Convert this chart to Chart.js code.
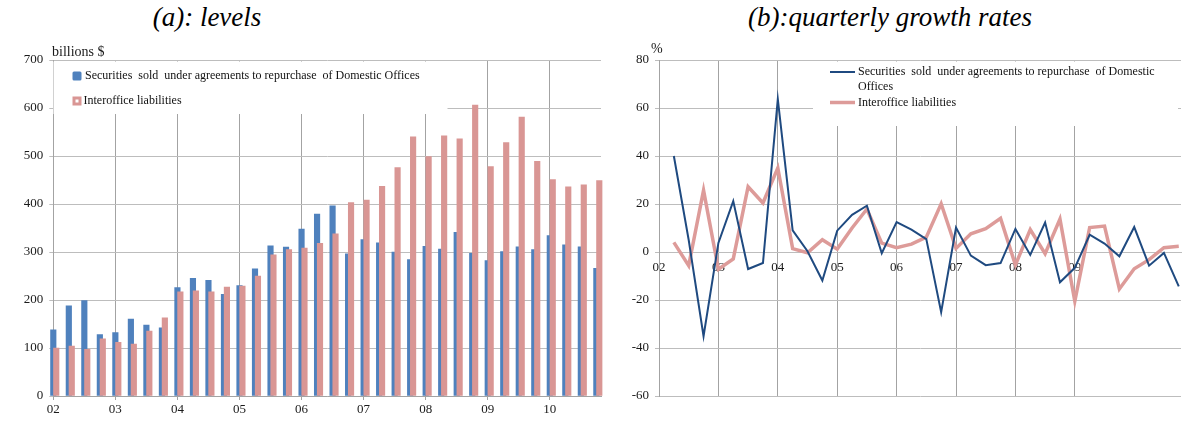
<!DOCTYPE html>
<html>
<head>
<meta charset="utf-8">
<script src="https://cdn.jsdelivr.net/npm/chart.js@4.4.1/dist/chart.umd.min.js"></script>
<style>
  html, body { margin: 0; padding: 0; background: #fff; }
  body { width: 1184px; height: 421px; position: relative; overflow: hidden;
         font-family: "Liberation Serif", "Times New Roman", serif; color: #000; }
  .title { position: absolute; top: 1px; font-style: italic; font-size: 27px; line-height: 32px;
           white-space: nowrap; transform: translateX(-50%); }
  .unit { position: absolute; font-size: 14px; line-height: 16px; white-space: nowrap; color: #1a1a1a; }
  #wrapA { position: absolute; left: 0; top: 0; width: 610px; height: 421px; }
  #wrapB { position: absolute; left: 600px; top: 0; width: 584px; height: 421px; }
</style>
</head>
<body>
<div class="title" style="left:207px">(a): levels</div>
<div class="title" style="left:890px">(b):quarterly growth rates</div>
<div id="wrapA"><canvas id="levels" width="610" height="421"></canvas></div>
<div id="wrapB"><canvas id="growth" width="584" height="421"></canvas></div>
<div class="unit" style="left:52px;top:44px">billions $</div>
<div class="unit" style="left:651px;top:41px">%</div>
<script>
// Quarterly categories, 2002Q1 .. 2010Q4
const quarters = [
  '2002Q1','2002Q2','2002Q3','2002Q4', '2003Q1','2003Q2','2003Q3','2003Q4',
  '2004Q1','2004Q2','2004Q3','2004Q4', '2005Q1','2005Q2','2005Q3','2005Q4',
  '2006Q1','2006Q2','2006Q3','2006Q4', '2007Q1','2007Q2','2007Q3','2007Q4',
  '2008Q1','2008Q2','2008Q3','2008Q4', '2009Q1','2009Q2','2009Q3','2009Q4',
  '2010Q1','2010Q2','2010Q3','2010Q4'
];
// Year labels shown at the first quarter of each year
const yearLabels = ['02','03','04','05','06','07','08','09','10'];

// Levels, billions of dollars
const repoLevels = [
  138, 188, 199, 128,   132, 160, 148, 142,   226, 245, 241, 212,
  230, 265, 313, 310,   348, 379, 396, 296,   326, 319, 300, 284,
  312, 306, 341, 297,   282, 301, 311, 305,   334, 315, 311, 266
];
const interofficeLevels = [
  100, 104,  97, 119,   112, 108, 135, 163,   217, 219, 217, 227,
  229, 250, 294, 305,   308, 318, 338, 403,   408, 437, 476, 540,
  499, 542, 536, 606,   478, 528, 581, 489,   451, 436, 440, 449
];

// Quarterly growth rates, percent (2002Q2 .. 2010Q4)
const repoGrowth = [
        40.0,   5.0, -35.1,    3.8,  21.2,  -7.1,  -4.6,
  63.7,  9.0,   0.3, -11.9,    8.9,  15.5,  19.3,  -0.5,
  12.5,  9.3,   5.4, -25.1,   10.2,  -1.5,  -5.5,  -4.6,
   9.6, -1.2,  12.3, -12.6,   -6.6,   7.2,   3.5,  -1.8,
  10.4, -5.7,  -0.4, -14.3
];
const interofficeGrowth = [
         4.0,  -5.7,  25.7,   -7.2,  -2.9,  27.2,  20.4,
  35.0,  1.4,  -0.3,   5.1,    1.2,  10.0,  17.9,   3.7,
   1.8,  3.3,   6.2,  20.1,    1.5,   7.6,   9.7,  14.0,
  -5.4,  9.3,  -0.7,  13.7,  -20.5,  10.2,  10.8, -15.4,
  -7.0, -3.2,   1.8,   2.4
];

const repoLabel = 'Securities  sold  under agreements to repurchase  of Domestic Offices';
const interofficeLabel = 'Interoffice liabilities';

const BLUE = '#4f81bd';
const PINK = '#d99694';
const NAVY = '#1f4a80';
const PINK_LINE = '#dd9b99';
const GRID_V = '#a3a3a3';
const GRID_H = '#bdbdbd';
const AXIS = '#a3a3a3';
const TICK_FONT = { family: 'Liberation Serif', size: 13 };
const TICK_COLOR = '#1a1a1a';

// Levels are drawn at their quarter index; growth rates start at the second quarter
const levelPoints = (arr) => arr.map((v, i) => ({ x: quarters.indexOf(quarters[i]), y: v }));
const growthPoints = (arr) => arr.map((v, i) => ({ x: quarters.indexOf(quarters[i + 1]), y: v }));

// Keep only the year ticks (first quarter of each year)
const yearTicksOnly = (scale) => {
  scale.ticks = scale.ticks.filter(t => Number.isInteger(t.value) && t.value % 4 === 0 && t.value / 4 < yearLabels.length);
};
const yearTickLabel = (v) => yearLabels[v / 4];

// Legend drawn inside the plot on a white panel, above the grid and below the data
const boxLegend = {
  id: 'boxLegend',
  beforeDatasetsDraw(chart, args, opts) {
    if (!opts || !opts.items) return;
    const ctx = chart.ctx;
    ctx.save();
    ctx.fillStyle = '#fff';
    ctx.fillRect(opts.box.x, opts.box.y, opts.box.w, opts.box.h);
    ctx.font = '12px "Liberation Serif"';
    ctx.textBaseline = 'middle';
    opts.items.forEach(item => {
      const ds = chart.data.datasets[item.datasetIndex];
      if (item.marker === 'solid') {
        ctx.fillStyle = ds.backgroundColor;
        ctx.beginPath();
        ctx.roundRect(item.mx, item.y - 4.5, 9, 9, 1.5);
        ctx.fill();
      } else if (item.marker === 'hollow') {
        ctx.fillStyle = ds.backgroundColor;
        ctx.fillRect(item.mx, item.y - 4.5, 9, 9);
        ctx.fillStyle = '#fff';
        ctx.fillRect(item.mx + 3, item.y - 1.5, 3, 3);
      } else {
        ctx.strokeStyle = ds.borderColor;
        ctx.lineWidth = ds.borderWidth;
        ctx.beginPath();
        ctx.moveTo(item.mx, item.y);
        ctx.lineTo(item.mx + 25, item.y);
        ctx.stroke();
      }
      ctx.fillStyle = '#111';
      const lines = item.lines || [ds.label];
      lines.forEach((line, j) => ctx.fillText(line, item.tx, item.y + j * 15));
    });
    ctx.restore();
  }
};

new Chart(document.getElementById('levels'), {
  type: 'bar',
  data: {
    datasets: [
      { label: repoLabel, data: levelPoints(repoLevels), backgroundColor: BLUE,
        xAxisID: 'x', order: 1, grouped: false, barThickness: 5.5, clip: 8 },
      { label: interofficeLabel, data: levelPoints(interofficeLevels), backgroundColor: PINK,
        xAxisID: 'xPink', order: 0, grouped: false, barThickness: 5.5, clip: 8 }
    ]
  },
  options: {
    responsive: false,
    animation: false,
    layout: { padding: { top: 60, right: 9, left: 0, bottom: 0 } },
    plugins: {
      legend: { display: false },
      tooltip: { enabled: false },
      boxLegend: {
        box: { x: 53.5, y: 61.5, w: 394, h: 52.5 },
        items: [
          { datasetIndex: 0, marker: 'solid', mx: 72.5, tx: 85, y: 76 },
          { datasetIndex: 1, marker: 'hollow', mx: 72.5, tx: 83.5, y: 101 }
        ]
      }
    },
    scales: {
      x: {
        type: 'linear', min: 0, max: 35.3, offset: false,
        afterBuildTicks: yearTicksOnly,
        afterFit: (s) => { s.height = 25; },
        ticks: { stepSize: 4, autoSkip: false, maxRotation: 0, callback: yearTickLabel,
                 font: TICK_FONT, color: TICK_COLOR, padding: 2 },
        grid: { color: GRID_V, tickLength: 4, offset: false },
        border: { color: AXIS }
      },
      // same quarter scale, shifted slightly right so the second series overlaps the first
      xPink: { type: 'linear', display: false, min: -0.19, max: 35.11, offset: false, grid: { offset: false } },
      y: {
        min: 0, max: 700,
        afterFit: (s) => { s.width = 53.3; },
        ticks: { stepSize: 100, font: TICK_FONT, color: TICK_COLOR, padding: 6 },
        grid: { color: GRID_H, tickLength: 4 },
        border: { color: AXIS }
      }
    }
  },
  plugins: [boxLegend]
});

new Chart(document.getElementById('growth'), {
  type: 'line',
  data: {
    datasets: [
      { label: repoLabel, data: growthPoints(repoGrowth), borderColor: NAVY, borderWidth: 2,
        pointRadius: 0, tension: 0, fill: false },
      { label: interofficeLabel, data: growthPoints(interofficeGrowth), borderColor: PINK_LINE, borderWidth: 3.5,
        pointRadius: 0, tension: 0, fill: false }
    ]
  },
  options: {
    responsive: false,
    animation: false,
    layout: { padding: { top: 60, right: 3, left: 0, bottom: 25 } },
    plugins: {
      legend: { display: false },
      tooltip: { enabled: false },
      boxLegend: {
        box: { x: 213, y: 61.5, w: 365, h: 64.5 },
        items: [
          { datasetIndex: 0, marker: 'line', mx: 230, tx: 258, y: 72,
            lines: ['Securities  sold  under agreements to repurchase  of Domestic', 'Offices'] },
          { datasetIndex: 1, marker: 'line', mx: 230, tx: 258, y: 102.5 }
        ]
      }
    },
    scales: {
      x: {
        type: 'linear', min: 0, max: 35.15,
        position: { y: 0 },
        afterBuildTicks: yearTicksOnly,
        ticks: { stepSize: 4, autoSkip: false, maxRotation: 0, callback: yearTickLabel,
                 font: TICK_FONT, color: TICK_COLOR, padding: 4 },
        grid: { color: GRID_V, tickLength: 4 },
        border: { color: GRID_H }
      },
      y: {
        min: -60, max: 80,
        afterFit: (s) => { s.width = 59; },
        ticks: { stepSize: 20, font: TICK_FONT, color: TICK_COLOR, padding: 6 },
        grid: { color: GRID_H, tickLength: 4 },
        border: { color: AXIS }
      }
    }
  },
  plugins: [boxLegend]
});
</script>
</body>
</html>
